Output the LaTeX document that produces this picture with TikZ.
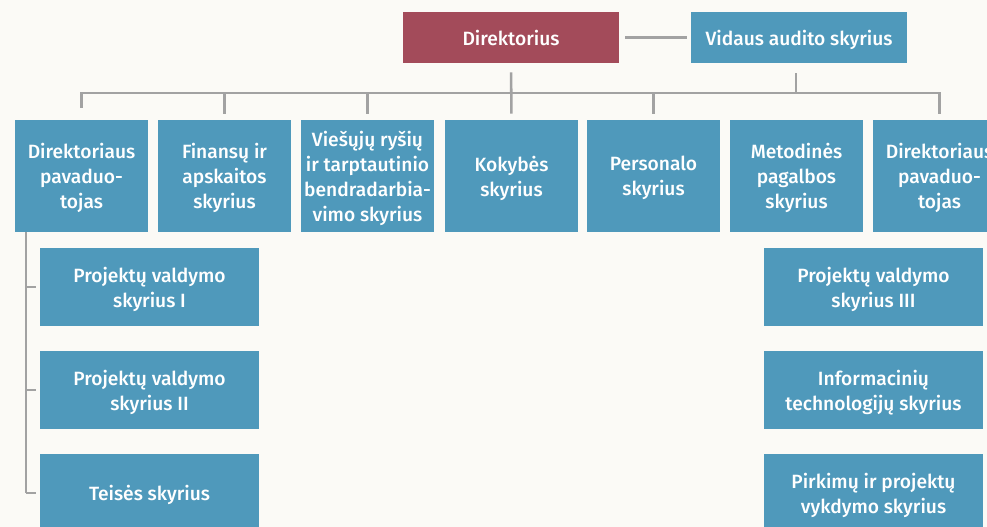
\documentclass[tikz,border=0pt]{standalone}
\usepackage{fontspec}
\setmainfont{Fira Sans}[UprightFont={* Medium}, Ligatures=NoCommon]
\usetikzlibrary{calc}
\definecolor{bgc}{HTML}{FBFAF6}
\definecolor{boxblue}{HTML}{4F99BB}
\definecolor{boxred}{HTML}{A34B5A}
\definecolor{linegray}{HTML}{A2A2A2}
\tikzset{
  unit/.style={rectangle, fill=boxblue, text=white, font=\fontsize{14.4}{18.8}\selectfont, align=center, inner sep=0pt, text depth=0pt},
  topbox/.style={unit, minimum width=162pt, minimum height=38.5pt},
  colbox/.style={unit, minimum width=100pt, minimum height=84pt},
  subbox/.style={unit, minimum width=164.25pt, minimum height=58.5pt},
  conn/.style={draw=linegray, line width=1.9pt},
}
\begin{document}
\begin{tikzpicture}[x=0.75pt, y=-0.75pt]
\useasboundingbox (0,0) rectangle (987,527);
\fill[bgc] (0,0) rectangle (987,527);
\clip (0,0) rectangle (987,527);
% top
\node[topbox, fill=boxred] (dir) at (511,37.5) {Direktorius};
\node[topbox] (aud) at (799,37.5) {Vidaus audito skyrius};
% column row
\node[colbox] (d1) at (81.5,176) {Direktoriaus\\pavaduo-\\tojas};
\node[colbox] (d2) at (224.5,176) {Finansų ir\\apskaitos\\skyrius};
\node[colbox] (d3) at (367.5,176) {Viešųjų ryšių\\ir tarptautinio\\bendradarbia-\\vimo skyrius};
\node[colbox] (d4) at (511.5,176) {Kokybės\\skyrius};
\node[colbox] (d5) at (653.5,176) {Personalo\\skyrius};
\node[colbox] (d6) at (796.5,176) {Metodinės\\pagalbos\\skyrius};
\node[colbox] (d7) at (939.5,176) {Direktoriaus\\pavaduo-\\tojas};
% left subordinates
\node[subbox] (l1) at (149.5,287) {Projektų valdymo\\skyrius I};
\node[subbox] (l2) at (149.5,390) {Projektų valdymo\\skyrius II};
\node[subbox] (l3) at (149.5,493) {Teisės skyrius};
% right subordinates
\node[subbox] (r1) at (873.5,287) {Projektų valdymo\\skyrius III};
\node[subbox] (r2) at (873.5,390) {Informacinių\\technologijų skyrius};
\node[subbox] (r3) at (873.5,493) {Pirkimų ir projektų\\vykdymo skyrius};
% connectors
\coordinate (bar) at (0,93);
\coordinate (lv) at (26,0);
\coordinate (audx) at (796,0);
\draw[conn, shorten <=4.5pt, shorten >=3pt] (dir.east) -- (aud.west);
\draw[conn, shorten <=6.75pt, shorten >=4.5pt] (dir.south) -- (d4.north);
\draw[conn, shorten <=7.5pt] (aud.south -| audx) -- (audx |- bar);
\draw[conn, shorten <=4.5pt] ($(d1.north)+(0,-6)$) -- (d1.north |- bar) -- (d7.north |- bar) -- ($(d7.north)+(0,-6)$);
\draw[conn, shorten >=4.5pt] (d2.north |- bar) -- (d2.north);
\draw[conn, shorten >=4.5pt] (d3.north |- bar) -- (d3.north);
\draw[conn, shorten >=4.5pt] (d5.north |- bar) -- (d5.north);
\draw[conn] (d1.south -| lv) -- (l3.west -| lv);
\draw[conn, shorten >=3pt] (l1.west -| lv) -- (l1.west);
\draw[conn, shorten >=3pt] (l2.west -| lv) -- (l2.west);
\draw[conn, shorten >=3pt] (l3.west -| lv) -- (l3.west);
\end{tikzpicture}
\end{document}
